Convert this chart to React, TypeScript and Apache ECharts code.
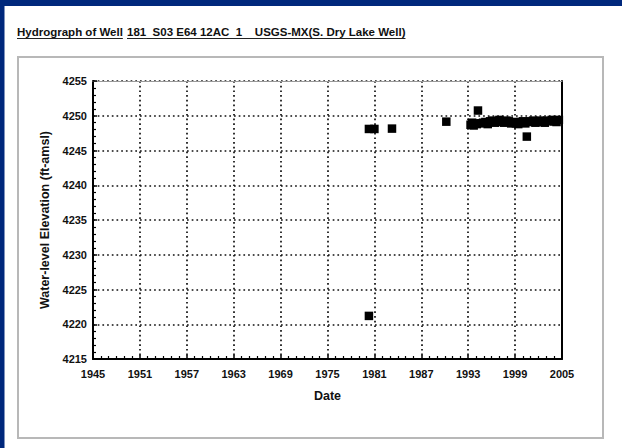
import React, { useEffect, useRef } from "react";
import * as echarts from "echarts";

const TITLE_PART_1 = "Hydrograph of Well";
const TITLE_PART_2 = "181  S03 E64 12AC  1    USGS-MX(S. Dry Lake Well)";
const X_NAME = "Date";
const Y_NAME = "Water-level Elevation (ft-amsl)";

const BASE_YEAR = 1945;
const xTickLabels = ["1945", "1951", "1957", "1963", "1969", "1975", "1981", "1987", "1993", "1999", "2005"];
const yTickLabels = ["4215", "4220", "4225", "4230", "4235", "4240", "4245", "4250", "4255"];

// decimal year of each measurement
const dates = [
  1980.3, 1980.3, 1981.0, 1983.25, 1990.2, 1994.25, 2000.5,
  1993.3, 1993.5, 1993.7, 1993.9, 1994.1, 1994.6, 1994.9, 1995.2, 1995.5, 1995.8,
  1996.1, 1996.4, 1996.7, 1997.0, 1997.3, 1997.6, 1997.9, 1998.2, 1998.5, 1998.8,
  1999.1, 1999.4, 1999.7, 2000.0, 2000.3, 2000.7, 2001.0, 2001.3, 2001.6, 2001.9,
  2002.2, 2002.5, 2002.8, 2003.1, 2003.4, 2003.7, 2004.0, 2004.3, 2004.6,
];
// water-level elevation, ft above mean sea level
const elevations = [
  4221.2, 4248.1, 4248.1, 4248.15, 4249.15, 4250.75, 4247.0,
  4248.7, 4249.0, 4248.6, 4248.9, 4248.8, 4248.9, 4249.0, 4249.1, 4248.8, 4249.2,
  4249.3, 4249.0, 4249.2, 4249.4, 4249.1, 4249.0, 4249.3, 4249.2, 4248.9, 4249.1,
  4248.9, 4248.8, 4249.1, 4249.2, 4248.9, 4249.1, 4249.2, 4249.3, 4249.0, 4249.2,
  4249.3, 4249.1, 4249.0, 4249.3, 4249.2, 4249.4, 4249.2, 4249.1, 4249.4,
];

const FONT = "'Liberation Sans', Arial, Helvetica, sans-serif";
const TITLE_SIZE = 11.5;

function measure(text: string, size: number): number {
  const c = document.createElement("canvas");
  const ctx = c.getContext("2d");
  if (!ctx) return text.length * size * 0.6;
  ctx.font = `bold ${size}px ${FONT}`;
  return ctx.measureText(text).width;
}

export default function App() {
  const ref = useRef<HTMLDivElement>(null);

  useEffect(() => {
    document.body.style.margin = "0";
    if (!ref.current) return;
    const chart = echarts.init(ref.current, undefined, { renderer: "svg" });

    const GL = 93, GT = 81, GW = 469, GH = 278;
    const t1x = 17, t2x = 127, ty = 32, uy = 38.5;
    const w1 = measure(TITLE_PART_1, TITLE_SIZE);
    const w2 = measure(TITLE_PART_2, TITLE_SIZE);

    const points = dates.map((d, i) => [d - BASE_YEAR, elevations[i]]);

    const axisFont = { fontFamily: FONT, fontWeight: "bold" as const, color: "#111" };

    chart.setOption({
      animation: false,
      backgroundColor: "#ffffff",
      graphic: [
        { type: "rect", shape: { x: 0, y: 0, width: 622, height: 6 }, style: { fill: "#00287c" }, silent: true },
        { type: "rect", shape: { x: 0, y: 0, width: 4.5, height: 448 }, style: { fill: "#00287c" }, silent: true },
        { type: "rect", shape: { x: 18, y: 57, width: 585, height: 381 }, style: { fill: "none", stroke: "#b8b8b8", lineWidth: 2 }, silent: true },
        {
          type: "text", x: t1x, y: ty,
          style: { text: TITLE_PART_1, font: `bold ${TITLE_SIZE}px ${FONT}`, fill: "#111", textVerticalAlign: "middle" },
        },
        {
          type: "text", x: t2x, y: ty,
          style: { text: TITLE_PART_2, font: `bold ${TITLE_SIZE}px ${FONT}`, fill: "#111", textVerticalAlign: "middle" },
        },
        { type: "line", shape: { x1: t1x, y1: uy, x2: t1x + w1, y2: uy }, style: { stroke: "#222", lineWidth: 1.2 } },
        { type: "line", shape: { x1: t2x, y1: uy, x2: t2x + w2, y2: uy }, style: { stroke: "#222", lineWidth: 1.2 } },
      ],
      grid: { left: GL, top: GT, width: GW, height: GH, containLabel: false },
      xAxis: [
        {
          type: "value", min: 0, max: 60, interval: 6, position: "bottom",
          name: X_NAME, nameLocation: "middle", nameGap: 30,
          nameTextStyle: { ...axisFont, fontSize: 12.5 },
          axisLine: { show: true, onZero: false, lineStyle: { color: "#000", width: 2 } },
          axisTick: { show: true, inside: true, length: 4, lineStyle: { color: "#000", width: 1.5 } },
          minorTick: { show: true, splitNumber: 6, length: 3, lineStyle: { color: "#000", width: 1.2 } },
          axisLabel: {
            ...axisFont, fontSize: 11, margin: 9,
            formatter: (v: number) => xTickLabels[Math.round(v / 6)] ?? "",
          },
          splitLine: { show: true, lineStyle: { color: "#111", width: 1.7, type: [1.7, 3] } },
        },
        {
          type: "value", min: 0, max: 60, interval: 6, position: "top",
          axisLine: { show: true, onZero: false, lineStyle: { color: "#999", width: 1 } },
          axisTick: { show: false }, axisLabel: { show: false }, splitLine: { show: false },
        },
      ],
      yAxis: [
        {
          type: "value", min: 4215, max: 4255, interval: 5, position: "left",
          name: Y_NAME, nameLocation: "middle", nameGap: 39, nameRotate: 90,
          nameTextStyle: { ...axisFont, fontSize: 12.5 },
          axisLine: { show: true, onZero: false, lineStyle: { color: "#000", width: 2 } },
          axisTick: { show: true, inside: true, length: 4, lineStyle: { color: "#000", width: 1.5 } },
          minorTick: { show: true, splitNumber: 5, length: 3, lineStyle: { color: "#000", width: 1.2 } },
          axisLabel: {
            ...axisFont, fontSize: 11, margin: 6,
            formatter: (v: number) => yTickLabels[Math.round((v - 4215) / 5)] ?? "",
          },
          splitLine: { show: true, lineStyle: { color: "#111", width: 1.7, type: [1.7, 3] } },
        },
        {
          type: "value", min: 4215, max: 4255, interval: 5, position: "right",
          axisLine: { show: true, onZero: false, lineStyle: { color: "#000", width: 2 } },
          axisTick: { show: false }, axisLabel: { show: false }, splitLine: { show: false },
        },
      ],
      series: [
        {
          type: "scatter",
          xAxisIndex: 0,
          yAxisIndex: 0,
          symbol: "rect",
          symbolSize: 8.5,
          itemStyle: { color: "#000", opacity: 1 },
          data: points,
          z: 5,
        },
      ],
    });

    return () => chart.dispose();
  }, []);

  return <div ref={ref} style={{ width: 622, height: 448 }} />;
}
